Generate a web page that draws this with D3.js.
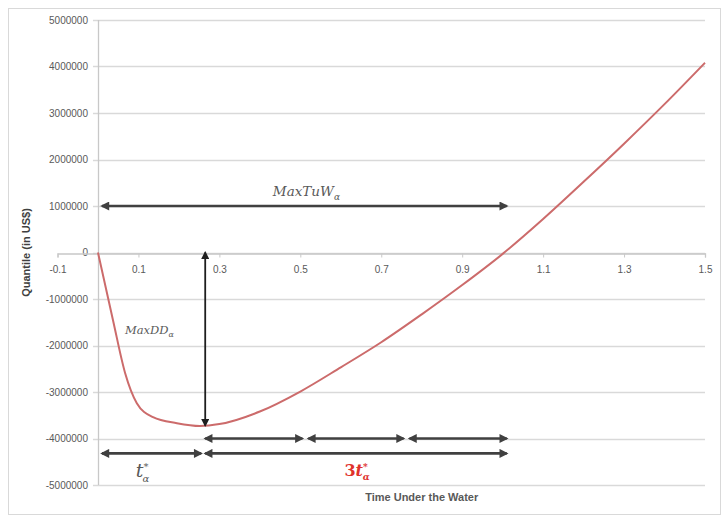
<!DOCTYPE html>
<html>
<head>
<meta charset="utf-8">
<script src="https://cdn.jsdelivr.net/npm/d3@7"></script>
<style>
  body { margin: 0; background: #fff; }
  svg { display: block; font-family: "Liberation Sans", Arial, sans-serif; }
</style>
</head>
<body>
<div id="adiv"></div>
<script>
// values
var xTicks = [-0.1, 0.1, 0.3, 0.5, 0.7, 0.9, 1.1, 1.3, 1.5];
var yTicks = [5000000, 4000000, 3000000, 2000000, 1000000, 0, -1000000, -2000000, -3000000, -4000000, -5000000];

var curveT = [0, 0.037, 0.067, 0.096, 0.136, 0.195, 0.252, 0.30, 0.40, 0.50, 0.60, 0.70, 0.80, 0.90, 1.00, 1.10, 1.20, 1.30, 1.40, 1.5];
var curveQ = [0, -1450000, -2590000, -3240000, -3540000, -3670000, -3730000, -3690000, -3420000, -2990000, -2470000, -1930000, -1330000, -700000, -30000, 720000, 1520000, 2340000, 3190000, 4080000];

// double headed arrows: start, end, level
var arrowFrom = [0.01, 0.265, 0.52, 0.77, 0.01, 0.265];
var arrowTo   = [1.01, 0.505, 0.755, 1.01, 0.255, 1.01];
var arrowQ    = [1000000, -4000000, -4000000, -4000000, -4320000, -4320000];

// vertical drawdown arrow
var ddT = 0.265, ddTop = 0, ddBottom = -3720000;

var W = 722, H = 516;
var margin = {top: 20, right: 17, bottom: 31, left: 57.5};

var svg = d3.select("#adiv").append("svg")
    .attr("width", W)
    .attr("height", H);

// chart frame
svg.append("rect")
    .attr("x", 8.5).attr("y", 8.5)
    .attr("width", 712).attr("height", 506)
    .attr("fill", "none")
    .attr("stroke", "#d9d9d9");

var x = d3.scaleLinear().domain([-0.1, 1.5]).range([margin.left, W - margin.right]);
var y = d3.scaleLinear().domain([-5000000, 5000000]).range([H - margin.bottom, margin.top]);

// horizontal gridlines + small ticks left of the value axis
svg.append("g").selectAll("line")
  .data(yTicks)
  .enter().append("line")
    .attr("x1", x(0) - 5)
    .attr("x2", x(1.5))
    .attr("y1", d => Math.round(y(d)) + 0.5)
    .attr("y2", d => Math.round(y(d)) + 0.5)
    .attr("stroke", "#d9d9d9")
    .attr("stroke-width", 1.3);

svg.append("g").selectAll("text")
  .data(yTicks)
  .enter().append("text")
    .attr("x", x(0) - 10)
    .attr("y", d => y(d))
    .attr("dy", "0.35em")
    .attr("text-anchor", "end")
    .attr("font-size", 10)
    .attr("fill", "#595959")
    .text(d => String(d));

// value axis line at t = 0
svg.append("line")
    .attr("x1", Math.round(x(0)) + 0.5).attr("x2", Math.round(x(0)) + 0.5)
    .attr("y1", y(5000000)).attr("y2", y(-5000000))
    .attr("stroke", "#c8c8c8")
    .attr("stroke-width", 1.3);

// category axis crossing at 0
var xAxis = svg.append("g")
    .attr("transform", "translate(0," + (Math.round(y(0)) + 0.5) + ")")
    .call(d3.axisBottom(x)
        .tickValues(xTicks)
        .tickSize(4)
        .tickPadding(8)
        .tickFormat(d => d.toFixed(1)));
xAxis.select(".domain").attr("stroke", "#c8c8c8").attr("stroke-width", 1.3);
xAxis.selectAll(".tick line").attr("stroke", "#c8c8c8");
xAxis.selectAll(".tick text")
    .attr("fill", "#595959")
    .attr("font-size", 10)
    .attr("font-family", "Liberation Sans, Arial, sans-serif");

// quantile curve
var pts = curveT.map((t, i) => [t, curveQ[i]]);
svg.append("path")
    .datum(pts)
    .attr("fill", "none")
    .attr("stroke", "#cc6b6b")
    .attr("stroke-width", 2)
    .attr("d", d3.line()
        .x(d => x(d[0]))
        .y(d => y(d[1]))
        .curve(d3.curveMonotoneX));

// arrow heads
var defs = svg.append("defs");
function head(id, col, w, h) {
  defs.append("marker")
      .attr("id", id)
      .attr("viewBox", "0 0 10 10")
      .attr("refX", 8).attr("refY", 5)
      .attr("markerUnits", "userSpaceOnUse")
      .attr("markerWidth", w).attr("markerHeight", h)
      .attr("orient", "auto-start-reverse")
    .append("path")
      .attr("d", "M0,0 L10,5 L0,10 z")
      .attr("fill", col);
}
head("ah", "#404040", 10, 9);
head("ahv", "#1e1e1e", 9, 8);

svg.append("g").selectAll("line")
  .data(arrowFrom)
  .enter().append("line")
    .attr("x1", (d, i) => x(arrowFrom[i]))
    .attr("x2", (d, i) => x(arrowTo[i]))
    .attr("y1", (d, i) => y(arrowQ[i]))
    .attr("y2", (d, i) => y(arrowQ[i]))
    .attr("stroke", "#404040")
    .attr("stroke-width", 2.6)
    .attr("marker-start", "url(#ah)")
    .attr("marker-end", "url(#ah)");

svg.append("line")
    .attr("x1", x(ddT)).attr("x2", x(ddT))
    .attr("y1", y(ddTop)).attr("y2", y(ddBottom))
    .attr("stroke", "#1e1e1e")
    .attr("stroke-width", 1.8)
    .attr("marker-start", "url(#ahv)")
    .attr("marker-end", "url(#ahv)");

// math labels
var math = "DejaVu Serif, Liberation Serif, serif";

var tuw = svg.append("text")
    .attr("x", x(0.515)).attr("y", y(1000000) - 10)
    .attr("text-anchor", "middle")
    .attr("font-family", math).attr("font-style", "italic")
    .attr("font-size", 13.5).attr("fill", "#595959");
tuw.append("tspan").text("MaxTuW");
tuw.append("tspan").attr("dy", 4).attr("font-size", 9).text("α");

var dd = svg.append("text")
    .attr("x", x(0.127)).attr("y", y(-1750000))
    .attr("text-anchor", "middle")
    .attr("font-family", math).attr("font-style", "italic")
    .attr("font-size", 11.5).attr("fill", "#595959");
dd.append("tspan").text("MaxDD");
dd.append("tspan").attr("dy", 3).attr("font-size", 8).text("α");

var ts = svg.append("text")
    .attr("x", x(0.11)).attr("y", y(-4820000))
    .attr("text-anchor", "middle")
    .attr("font-family", math).attr("font-style", "italic")
    .attr("font-size", 19).attr("fill", "#595959");
ts.append("tspan").text("t");
ts.append("tspan").attr("dy", -7).attr("font-size", 10).attr("font-style", "normal").text("*");
ts.append("tspan").attr("dx", -6).attr("dy", 12).attr("font-size", 10).text("α");

var ts3 = svg.append("text")
    .attr("x", x(0.64)).attr("y", y(-4800000))
    .attr("text-anchor", "middle")
    .attr("font-family", math).attr("font-style", "italic").attr("font-weight", "bold")
    .attr("font-size", 16).attr("fill", "#e0322c");
ts3.append("tspan").attr("font-style", "normal").text("3");
ts3.append("tspan").text("t");
ts3.append("tspan").attr("dy", -6).attr("font-size", 9).attr("font-style", "normal").text("*");
ts3.append("tspan").attr("dx", -5).attr("dy", 10).attr("font-size", 9).text("α");

// axis titles
svg.append("text")
    .attr("x", x(0.8)).attr("y", H - 15)
    .attr("text-anchor", "middle")
    .attr("font-size", 11).attr("font-weight", "bold")
    .attr("fill", "#595959")
    .text("Time Under the Water");

svg.append("text")
    .attr("transform", "translate(30," + y(0) + ") rotate(-90)")
    .attr("text-anchor", "middle")
    .attr("font-size", 11).attr("font-weight", "bold")
    .attr("fill", "#404040")
    .text("Quantile (in US$)");
</script>
</body>
</html>
